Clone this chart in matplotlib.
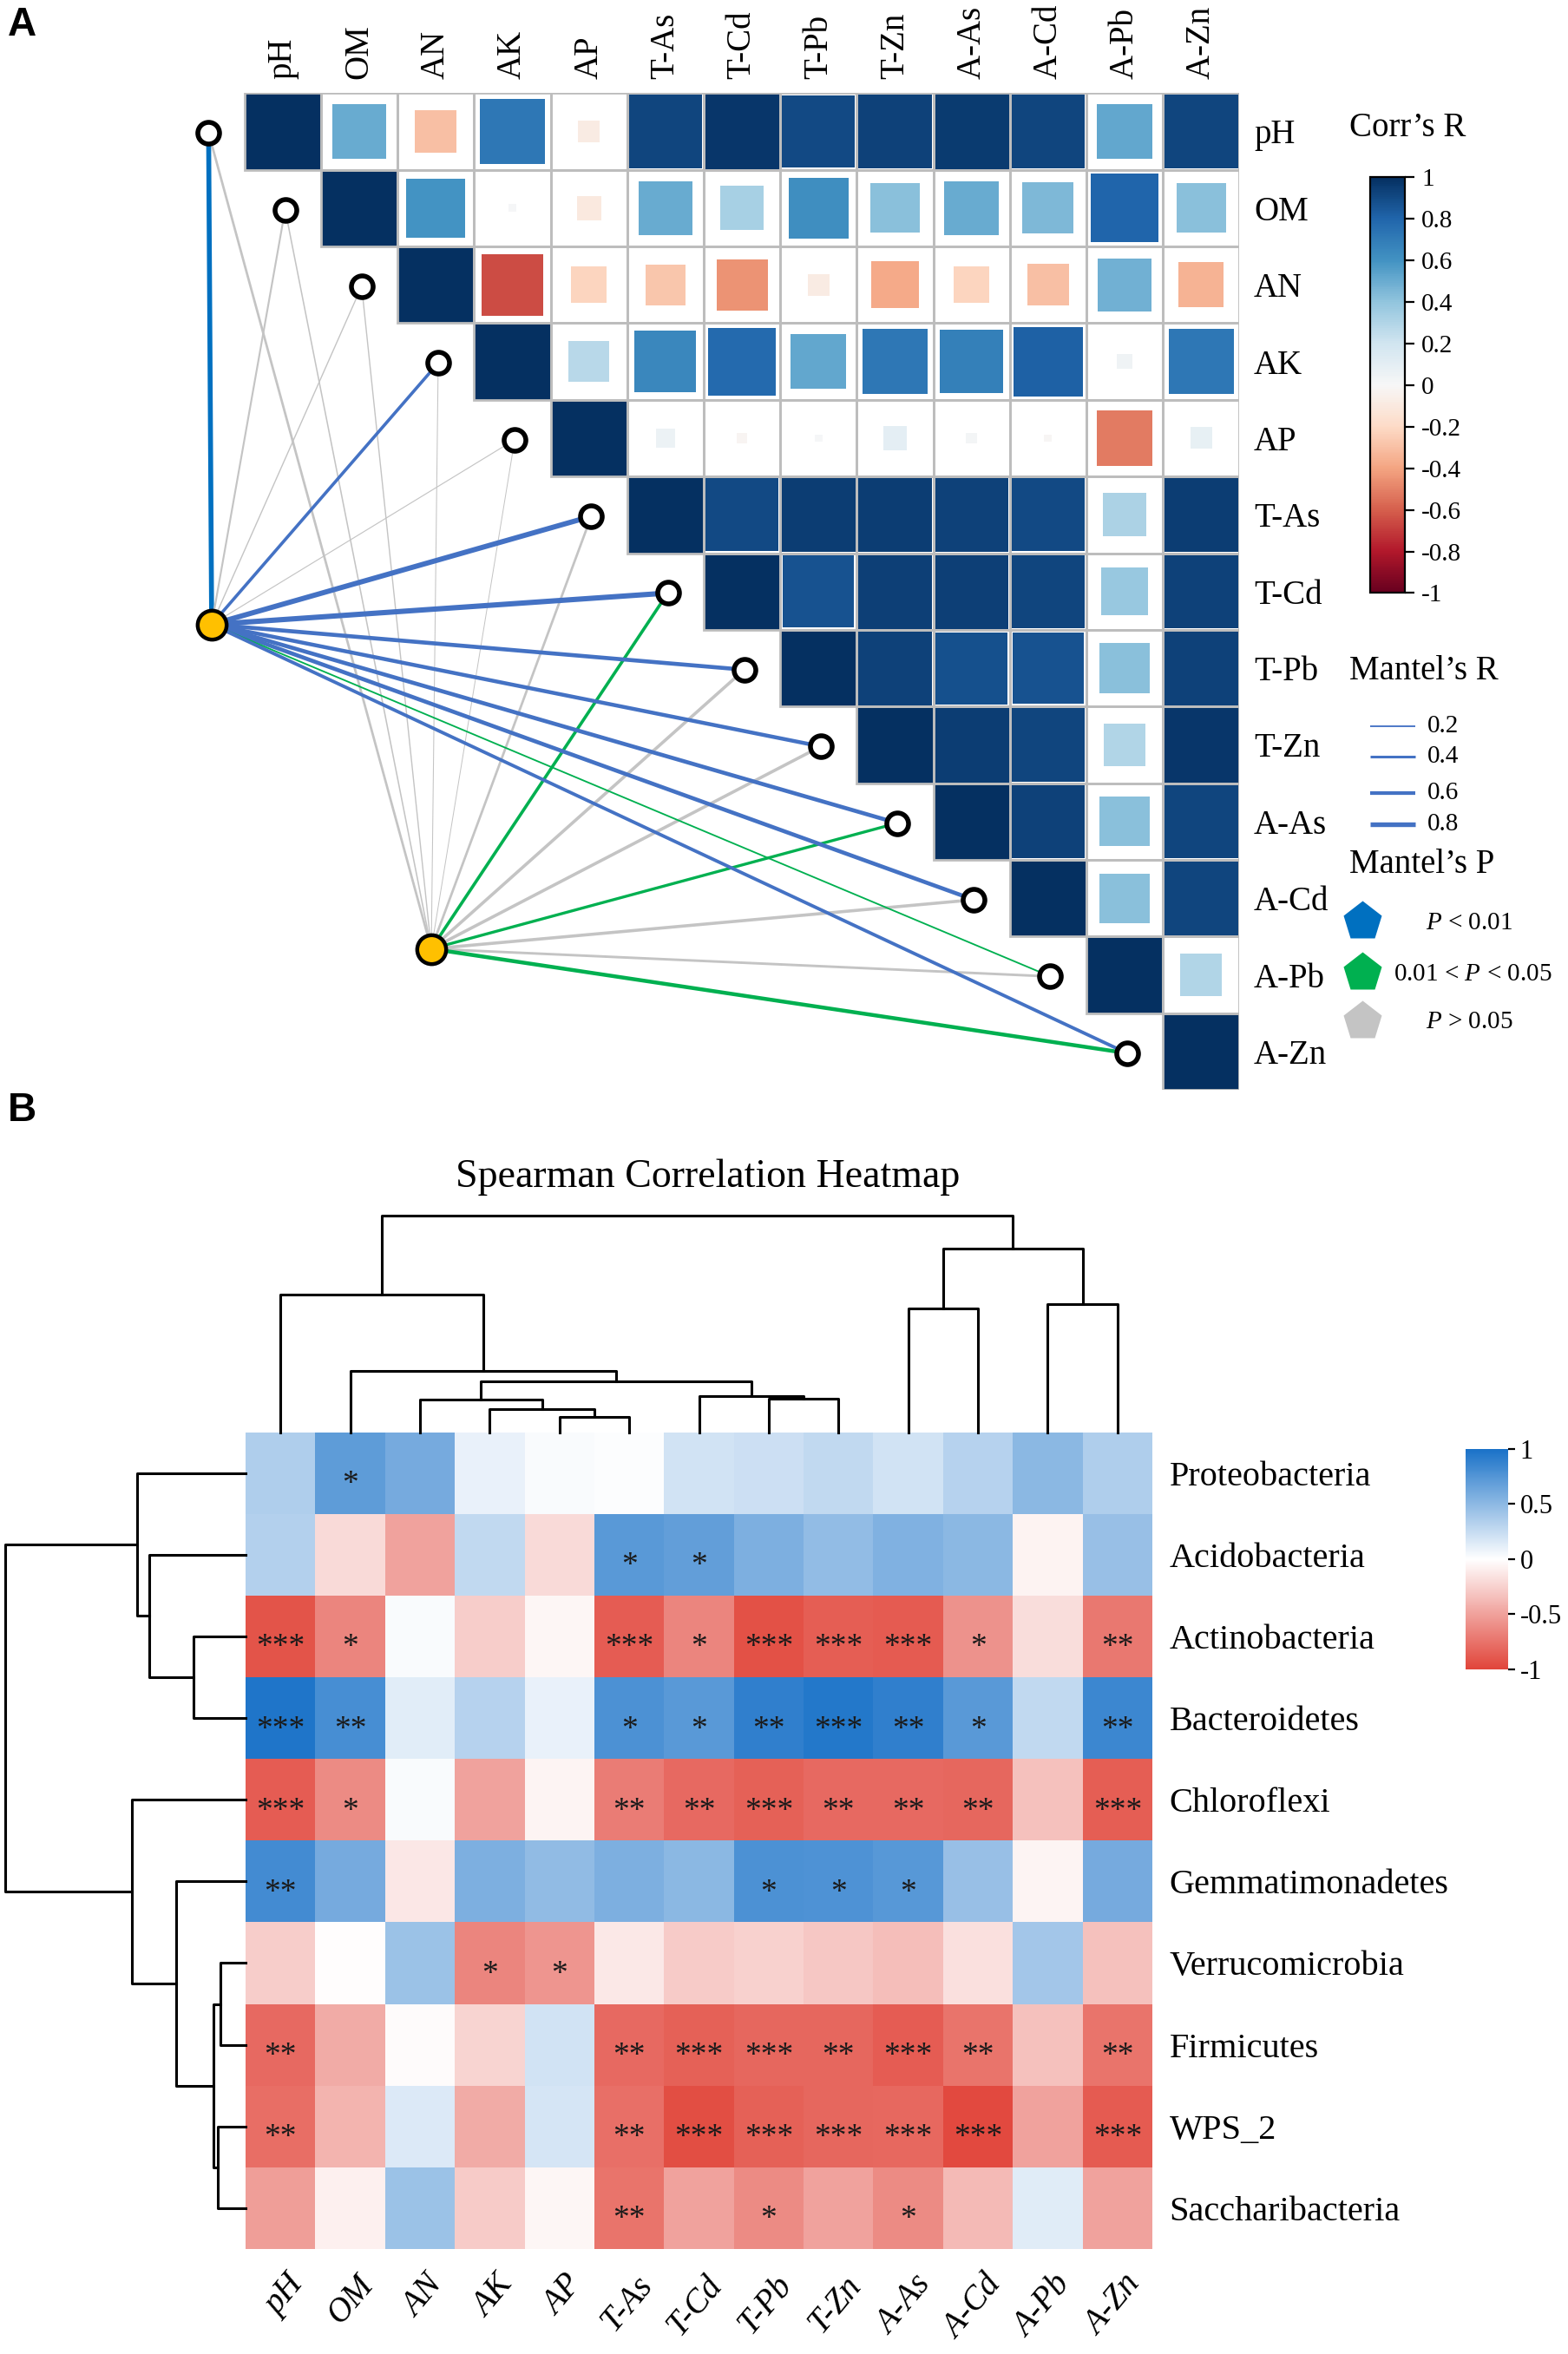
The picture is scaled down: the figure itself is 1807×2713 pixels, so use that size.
import numpy as np
import matplotlib
matplotlib.use('Agg')
import matplotlib.pyplot as plt
from matplotlib.colors import LinearSegmentedColormap, Normalize
from matplotlib.patches import Rectangle
import matplotlib.cm as cm

plt.rcParams['font.family'] = ['Liberation Serif', 'DejaVu Serif']
plt.rcParams['mathtext.fontset'] = 'custom'
plt.rcParams['mathtext.rm'] = 'Liberation Serif'
plt.rcParams['mathtext.it'] = 'Liberation Serif:italic'

# ---------------- data ----------------
env = ['pH', 'OM', 'AN', 'AK', 'AP', 'T-As', 'T-Cd', 'T-Pb', 'T-Zn',
       'A-As', 'A-Cd', 'A-Pb', 'A-Zn']

# panel A: upper triangle of the env correlation matrix (row i holds cols i..12)
corr_rows = [
    [1, 0.50, -0.30, 0.72, -0.08, 0.92, 0.97, 0.90, 0.93, 0.96, 0.92, 0.52, 0.92],
    [1, 0.60, 0.01, -0.10, 0.50, 0.33, 0.62, 0.42, 0.50, 0.45, 0.80, 0.42],
    [1, -0.65, -0.22, -0.28, -0.45, -0.08, -0.38, -0.22, -0.30, 0.48, -0.35],
    [1, 0.28, 0.65, 0.78, 0.52, 0.72, 0.68, 0.82, 0.04, 0.72],
    [1, 0.06, -0.02, 0.01, 0.10, 0.02, -0.01, -0.52, 0.08],
    [1, 0.90, 0.95, 0.95, 0.93, 0.90, 0.32, 0.95],
    [1, 0.87, 0.94, 0.94, 0.92, 0.38, 0.93],
    [1, 0.93, 0.88, 0.87, 0.42, 0.93],
    [1, 0.95, 0.92, 0.30, 0.97],
    [1, 0.93, 0.42, 0.92],
    [1, 0.42, 0.92],
    [1, 0.30],
    [1],
]

# mantel tests (one value per env variable)
bact_r = [0.85, 0.25, 0.12, 0.50, 0.08, 0.90, 0.92, 0.68, 0.65, 0.68, 0.68, 0.20, 0.55]
bact_p = ['a', 'ns', 'ns', 'b', 'ns', 'b', 'b', 'b', 'b', 'b', 'b', 'g', 'b']
func_r = [0.35, 0.15, 0.12, 0.06, 0.05, 0.35, 0.50, 0.50, 0.50, 0.45, 0.50, 0.38, 0.65]
func_p = ['ns', 'ns', 'ns', 'ns', 'ns', 'ns', 'g', 'ns', 'ns', 'g', 'ns', 'ns', 'g']
p_colors = {'a': '#0070C0', 'b': '#4472C4', 'g': '#00B050', 'ns': '#C4C4C4'}

# panel B: spearman correlations
phyla = ['Proteobacteria', 'Acidobacteria', 'Actinobacteria', 'Bacteroidetes',
         'Chloroflexi', 'Gemmatimonadetes', 'Verrucomicrobia', 'Firmicutes',
         'WPS_2', 'Saccharibacteria']
spear = [
    [0.35, 0.70, 0.60, 0.10, 0.03, 0.01, 0.20, 0.22, 0.27, 0.20, 0.32, 0.50, 0.35],
    [0.33, -0.20, -0.50, 0.27, -0.20, 0.72, 0.68, 0.57, 0.47, 0.55, 0.50, -0.07, 0.45],
    [-0.92, -0.65, 0.03, -0.27, -0.05, -0.87, -0.65, -0.93, -0.86, -0.88, -0.58, -0.18, -0.72],
    [0.97, 0.80, 0.13, 0.32, 0.10, 0.78, 0.72, 0.90, 0.96, 0.90, 0.72, 0.27, 0.85],
    [-0.87, -0.62, 0.03, -0.50, -0.06, -0.70, -0.80, -0.85, -0.80, -0.80, -0.82, -0.33, -0.86],
    [0.82, 0.60, -0.13, 0.57, 0.48, 0.57, 0.50, 0.78, 0.77, 0.73, 0.45, -0.06, 0.60],
    [-0.27, -0.01, 0.43, -0.65, -0.57, -0.12, -0.28, -0.25, -0.30, -0.35, -0.17, 0.40, -0.33],
    [-0.80, -0.45, -0.02, -0.23, 0.20, -0.80, -0.85, -0.82, -0.82, -0.87, -0.75, -0.33, -0.75],
    [-0.78, -0.40, 0.15, -0.45, 0.18, -0.77, -0.95, -0.85, -0.82, -0.81, -0.97, -0.50, -0.88],
    [-0.52, -0.08, 0.43, -0.28, -0.05, -0.75, -0.50, -0.62, -0.50, -0.62, -0.37, 0.14, -0.50],
]
stars = [
    ['', '*', '', '', '', '', '', '', '', '', '', '', ''],
    ['', '', '', '', '', '*', '*', '', '', '', '', '', ''],
    ['***', '*', '', '', '', '***', '*', '***', '***', '***', '*', '', '**'],
    ['***', '**', '', '', '', '*', '*', '**', '***', '**', '*', '', '**'],
    ['***', '*', '', '', '', '**', '**', '***', '**', '**', '**', '', '***'],
    ['**', '', '', '', '', '', '', '*', '*', '*', '', '', ''],
    ['', '', '', '*', '*', '', '', '', '', '', '', '', ''],
    ['**', '', '', '', '', '**', '***', '***', '**', '***', '**', '', '**'],
    ['**', '', '', '', '', '**', '***', '***', '***', '***', '***', '', '***'],
    ['', '', '', '', '', '**', '', '*', '', '*', '', '', ''],
]

# dendrograms: (left, right, height) ; leaves are 0..n-1 in display order
col_merges = [(4, 5, 0.069), (3, 13, 0.105), (2, 14, 0.153), (7, 8, 0.155),
              (6, 16, 0.168), (15, 17, 0.235), (1, 18, 0.284), (0, 19, 0.637),
              (9, 10, 0.572), (11, 12, 0.593), (21, 22, 0.851), (20, 23, 1.0)]
row_merges = [(2, 3, 0.217), (1, 10, 0.40), (0, 11, 0.45), (6, 7, 0.105),
              (8, 9, 0.114), (13, 14, 0.134), (5, 15, 0.29), (4, 16, 0.473),
              (12, 17, 1.0)]

# ---------------- layout helpers ----------------
W, H = 1045.0, 1568.0


def box(x0, y0, x1, y1):
    return [x0 / W, 1 - y1 / H, (x1 - x0) / W, (y1 - y0) / H]


def mantel_lw(r):
    return 0.25 + 2.1 * r


fig = plt.figure(figsize=(1807 / 200, 2713 / 200), dpi=200)

# overlay axes in reference-pixel units for free text and legends
axO = fig.add_axes([0, 0, 1, 1])
axO.set_xlim(0, W)
axO.set_ylim(H, 0)
axO.axis('off')

# ---------------- panel A ----------------
axA = fig.add_axes(box(0, 62, 826, 726))
axA.set_xlim(-163 / 51, 13)
axA.set_ylim(13, 0)
for s in axA.spines.values():
    s.set_visible(False)

normA = Normalize(-1, 1)
cmapA = plt.get_cmap('RdBu')
for i, row in enumerate(corr_rows):
    for k, r in enumerate(row):
        j = i + k
        side = np.sqrt(abs(r))
        axA.add_patch(Rectangle((j + 0.5 - side / 2, i + 0.5 - side / 2), side, side,
                                fc=cmapA(normA(r)), ec='none', zorder=2))
        axA.add_patch(Rectangle((j, i), 1, 1, fc='none', ec='#BDBDBD', lw=1.0, zorder=3))

axA.xaxis.tick_top()
axA.set_xticks(np.arange(13) + 0.5)
axA.set_xticklabels(env, rotation=90, fontsize=14)
axA.yaxis.tick_right()
axA.set_yticks(np.arange(13) + 0.5)
axA.set_yticklabels(env, fontsize=14)
axA.tick_params(length=0, pad=6)

node_x = np.arange(13) - 0.47
node_y = np.arange(13) + 0.52
bact_xy = (-0.43, 6.93)
func_xy = (2.44, 11.16)

for (sx, sy), rs, ps in [(func_xy, func_r, func_p), (bact_xy, bact_r, bact_p)]:
    for i in range(13):
        axA.plot([sx, node_x[i]], [sy, node_y[i]], color=p_colors[ps[i]],
                 lw=mantel_lw(rs[i]), solid_capstyle='butt', zorder=4, clip_on=False)

axA.plot(node_x, node_y, 'o', ms=9, mfc='white', mec='black', mew=2.0,
         zorder=6, clip_on=False)
axA.plot([bact_xy[0], func_xy[0]], [bact_xy[1], func_xy[1]], 'o', ms=12,
         mfc='#FFC000', mec='black', mew=1.6, zorder=6, clip_on=False)

axO.text(5, 460, 'Bacterial community', fontsize=14.5, ha='left', va='center')
axO.text(218, 669, 'Community function', fontsize=14.5, ha='center', va='center')

# corr colorbar
caxA = fig.add_axes(box(913, 118, 936, 395))
cbA = fig.colorbar(cm.ScalarMappable(normA, cmapA), cax=caxA)
ticksA = [round(v, 1) for v in np.arange(-1, 1.01, 0.2)]
cbA.set_ticks(ticksA)
cbA.set_ticklabels(['0' if v == 0 else f'{v:g}' for v in ticksA])
cbA.ax.tick_params(labelsize=10.5, length=4, width=0.8, pad=3)
cbA.outline.set_linewidth(0.8)

axO.text(899, 85, 'Corr\u2019s R', fontsize=14, ha='left', va='center')
axO.text(899, 447, 'Mantel\u2019s R', fontsize=14, ha='left', va='center')
axO.text(899, 576, 'Mantel\u2019s P', fontsize=14, ha='left', va='center')

leg_r = [0.2, 0.4, 0.6, 0.8]
leg_y = [484, 504, 528, 549]
for r, y in zip(leg_r, leg_y):
    axO.plot([913, 943], [y, y], color='#4472C4', lw=mantel_lw(r), solid_capstyle='butt')
    axO.text(951, y, f'{r:g}', fontsize=10.5, ha='left', va='center')

leg_p = ['a', 'g', 'ns']
leg_p_lbl = [r'$P$ < 0.01', r'0.01 < $P$ < 0.05', r'$P$ > 0.05']
leg_p_x = [950, 929, 950]
leg_p_y = [614, 648, 680]
for code, lbl, tx, y in zip(leg_p, leg_p_lbl, leg_p_x, leg_p_y):
    axO.plot([908], [y], 'p', ms=17, color=p_colors[code], mec='none')
    axO.text(tx, y + 1, lbl, fontsize=10.5, ha='left', va='center')

axO.text(5, 17, 'A', fontsize=16.5, fontweight='bold', family='Liberation Sans',
         ha='left', va='center')
axO.text(5, 740, 'B', fontsize=16.5, fontweight='bold', family='Liberation Sans',
         ha='left', va='center')

# ---------------- panel B ----------------
cmapB = LinearSegmentedColormap.from_list('rwb', ['#E1453A', '#FFFFFF', '#1A72C8'])
axH = fig.add_axes(box(163.7, 954, 768, 1498))
axH.pcolormesh(np.array(spear), cmap=cmapB, vmin=-1, vmax=1)
axH.set_xlim(0, 13)
axH.set_ylim(10, 0)
for s in axH.spines.values():
    s.set_visible(False)
for i in range(10):
    for j in range(13):
        if stars[i][j]:
            axH.text(j + 0.5, i + 0.64, stars[i][j], ha='center', va='center',
                     fontsize=13.5, color='#1A1A1A')
axH.yaxis.tick_right()
axH.set_yticks(np.arange(10) + 0.5)
axH.set_yticklabels(phyla, fontsize=14.5)
axH.set_xticks([])
axH.tick_params(axis='y', length=0, pad=7)
for j, name in enumerate(env):
    axH.text(j + 0.75, 10.38, name, rotation=50, rotation_mode='anchor',
             ha='right', va='center', fontsize=14, style='italic', clip_on=False)


def draw_dendro(ax, merges, n, orient):
    pos = {i: i + 0.5 for i in range(n)}
    hgt = {i: 0.0 for i in range(n)}
    for k, (a, b, h) in enumerate(merges):
        xs = [pos[a], pos[a], pos[b], pos[b]]
        ys = [hgt[a], h, h, hgt[b]]
        if orient == 'top':
            ax.plot(xs, ys, color='black', lw=1.1, clip_on=False)
        else:
            ax.plot(ys, xs, color='black', lw=1.1, clip_on=False)
        pos[n + k] = (pos[a] + pos[b]) / 2
        hgt[n + k] = h


axDT = fig.add_axes(box(163.7, 810, 768, 954))
axDT.set_xlim(0, 13)
axDT.set_ylim(0, 1)
axDT.axis('off')
draw_dendro(axDT, col_merges, 13, 'top')

axDL = fig.add_axes(box(3.3, 954, 163.7, 1498))
axDL.set_xlim(1, 0)
axDL.set_ylim(10, 0)
axDL.axis('off')
draw_dendro(axDL, row_merges, 10, 'left')

axO.text(472, 784, 'Spearman Correlation Heatmap', fontsize=16.5, ha='center', va='center')

caxB = fig.add_axes(box(977, 965, 1005, 1112))
cbB = fig.colorbar(cm.ScalarMappable(Normalize(-1, 1), cmapB), cax=caxB)
ticksB = [-1, -0.5, 0, 0.5, 1]
cbB.set_ticks(ticksB)
cbB.set_ticklabels([f'{v:g}' for v in ticksB])
cbB.ax.tick_params(labelsize=11, length=3, width=0.8, pad=2)
cbB.outline.set_visible(False)

fig.savefig('out.png', dpi=200)
